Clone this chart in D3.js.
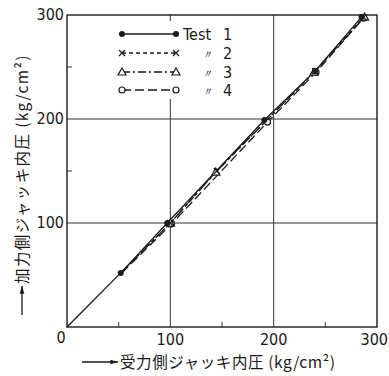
<!DOCTYPE html>
<html>
<head>
<meta charset="utf-8">
<script src="https://cdn.jsdelivr.net/npm/d3@7"></script>
<style>
  html, body { margin: 0; padding: 0; background: #fff; }
  svg { display: block; }
  .num { font-family: "DejaVu Sans Condensed", "Liberation Sans Narrow", "Liberation Sans", sans-serif; }
  .jp { font-family: "Noto Sans CJK JP", sans-serif; }
</style>
</head>
<body>
<svg id="chart" width="389" height="376"></svg>
<script>
/* global d3 */

// tick values for the grid and labels
const MAJOR_TICKS = [0, 100, 200, 300];
const MINOR_X = [50, 150, 250];
const MINOR_Y = [150, 250];

// [受力側, 加力側] pressures (kg/cm2)
const test1 = [[0, 0], [52, 52], [97, 100], [191, 199], [240, 246], [285, 298]];
const test2 = [[53, 53], [100, 100], [145, 150], [240, 246], [287, 298]];
const test3 = [[53, 53], [100, 100], [144, 149], [239, 245], [288, 298]];
const test4 = [[53, 52], [101, 99], [194, 197], [241, 245], [287, 297]];

const seriesNames = ['Test', '〃', '〃', '〃'];
const seriesNums = ['1', '2', '3', '4'];

const SERIES = [
  { data: test1, marker: 'dot', dash: null },
  { data: test2, marker: 'cross', dash: '4,3' },
  { data: test3, marker: 'tri', dash: '8,3,2,3' },
  { data: test4, marker: 'ring', dash: '9,4' },
];

const svg = d3.select('#chart');
const ink = '#1a1a1a';

const x = d3.scaleLinear().domain([0, 300]).range([67, 377]);
const y = d3.scaleLinear().domain([0, 300]).range([327, 15]);

// grid
const grid = svg.append('g').attr('stroke', '#333').attr('stroke-width', 1);
grid.selectAll('line.v')
  .data([100, 200])
  .join('line')
  .attr('class', 'v')
  .attr('x1', (d) => x(d)).attr('x2', (d) => x(d))
  .attr('y1', y(0)).attr('y2', y(300));
grid.selectAll('line.h')
  .data([100, 200])
  .join('line')
  .attr('class', 'h')
  .attr('x1', x(0)).attr('x2', x(300))
  .attr('y1', (d) => y(d)).attr('y2', (d) => y(d));

// minor ticks pointing inward
grid.selectAll('line.mx')
  .data(MINOR_X)
  .join('line')
  .attr('class', 'mx')
  .attr('x1', (d) => x(d)).attr('x2', (d) => x(d))
  .attr('y1', y(0)).attr('y2', y(0) - 5);
grid.selectAll('line.my')
  .data(MINOR_Y)
  .join('line')
  .attr('class', 'my')
  .attr('x1', x(0)).attr('x2', x(0) + 5)
  .attr('y1', (d) => y(d)).attr('y2', (d) => y(d));

// legend box (white, hides grid behind it)
const lg = svg.append('g');
lg.append('rect')
  .attr('x', 112).attr('y', 21).attr('width', 130).attr('height', 78)
  .attr('fill', '#fff');

// frame
svg.append('rect')
  .attr('x', x(0)).attr('y', y(300))
  .attr('width', x(300) - x(0)).attr('height', y(0) - y(300))
  .attr('fill', 'none').attr('stroke', ink).attr('stroke-width', 1.4);

// axis tick labels (last one sits flush with the right edge)
svg.append('g').attr('class', 'num')
  .selectAll('text')
  .data(MAJOR_TICKS.slice(1))
  .join('text')
  .attr('x', (d) => (d === 300 ? 388 : x(d))).attr('y', y(0) + 18)
  .attr('text-anchor', (d) => (d === 300 ? 'end' : 'middle'))
  .attr('font-size', 16).attr('fill', ink)
  .text((d) => d);
svg.append('g').attr('class', 'num')
  .selectAll('text')
  .data(MAJOR_TICKS.slice(1))
  .join('text')
  .attr('x', x(0) - 3).attr('y', (d) => y(d) + 5)
  .attr('text-anchor', 'end')
  .attr('font-size', 16).attr('fill', ink)
  .text((d) => d);
svg.append('text').attr('class', 'num')
  .attr('x', x(0) - 6).attr('y', y(0) + 16)
  .attr('text-anchor', 'middle')
  .attr('font-size', 16).attr('fill', ink)
  .text('0');

// markers
function drawMarker(g, type, cx, cy) {
  if (type === 'dot') {
    g.append('circle').attr('cx', cx).attr('cy', cy).attr('r', 3)
      .attr('fill', ink);
  } else if (type === 'ring') {
    g.append('circle').attr('cx', cx).attr('cy', cy).attr('r', 3)
      .attr('fill', '#fff').attr('stroke', ink).attr('stroke-width', 1.2);
  } else if (type === 'tri') {
    g.append('path')
      .attr('d', `M${cx},${cy - 4}L${cx + 4},${cy + 3}L${cx - 4},${cy + 3}Z`)
      .attr('fill', '#fff').attr('stroke', ink).attr('stroke-width', 1.2);
  } else if (type === 'cross') {
    g.append('path')
      .attr('d', `M${cx - 3},${cy - 3}L${cx + 3},${cy + 3}M${cx - 3},${cy + 3}L${cx + 3},${cy - 3}`)
      .attr('stroke', ink).attr('stroke-width', 1.2);
  }
}

const line = d3.line().x((d) => x(d[0])).y((d) => y(d[1]));
const plot = svg.append('g');

SERIES.slice().reverse().forEach((s) => {
  plot.append('path')
    .datum(s.data)
    .attr('d', line)
    .attr('fill', 'none')
    .attr('stroke', ink)
    .attr('stroke-width', 1.3)
    .attr('stroke-dasharray', s.dash);
});
// tests 2-4 branch off test 1 near 50; their first point carries no marker,
// nor does the origin of test 1
SERIES.slice().reverse().forEach((s) => {
  const g = plot.append('g');
  s.data.forEach((d, j) => {
    if (j === 0) return;
    drawMarker(g, s.marker, x(d[0]), y(d[1]));
  });
});

// legend entries
const rowY = [34, 53, 72, 90];
SERIES.forEach((s, i) => {
  const ry = rowY[i];
  lg.append('line')
    .attr('x1', 122).attr('x2', 176)
    .attr('y1', ry).attr('y2', ry)
    .attr('stroke', ink).attr('stroke-width', 1.3)
    .attr('stroke-dasharray', s.dash);
  drawMarker(lg, s.marker, 122, ry);
  drawMarker(lg, s.marker, 176, ry);
  lg.append('text').attr('class', 'num')
    .attr('x', i === 0 ? 183 : 201).attr('y', ry + 6)
    .attr('font-size', i === 0 ? 16 : 12)
    .attr('font-style', i === 0 ? 'normal' : 'italic')
    .attr('fill', ink)
    .text(seriesNames[i]);
  lg.append('text').attr('class', 'num')
    .attr('x', 223).attr('y', ry + 6)
    .attr('font-size', 16).attr('fill', ink)
    .text(seriesNums[i]);
});

// axis titles with arrows
function arrow(g, x1, y1, x2, y2) {
  g.append('line').attr('x1', x1).attr('y1', y1).attr('x2', x2).attr('y2', y2)
    .attr('stroke', ink).attr('stroke-width', 1.3);
  const a = Math.atan2(y2 - y1, x2 - x1);
  const p = (r, t) => [x2 - r * Math.cos(a + t), y2 - r * Math.sin(a + t)];
  const [l1, l2] = [p(8, 0.3), p(8, -0.3)];
  g.append('path').attr('d', `M${x2},${y2}L${l1[0]},${l1[1]}L${l2[0]},${l2[1]}Z`)
    .attr('fill', ink);
}

const xt = svg.append('g');
arrow(xt, 82, 362, 118, 362);
xt.append('text').attr('class', 'jp')
  .attr('x', 120).attr('y', 368)
  .attr('font-size', 15.5).attr('letter-spacing', 0.6).attr('fill', ink)
  .text('受力側ジャッキ内圧 (kg/cm²)');

const yt = svg.append('g');
arrow(yt, 22, 315, 22, 286);
yt.append('text').attr('class', 'jp')
  .attr('transform', 'translate(28,284) rotate(-90)')
  .attr('font-size', 15.5).attr('letter-spacing', 1.4).attr('fill', ink)
  .text('加力側ジャッキ内圧 (kg/cm²)');
</script>
</body>
</html>
